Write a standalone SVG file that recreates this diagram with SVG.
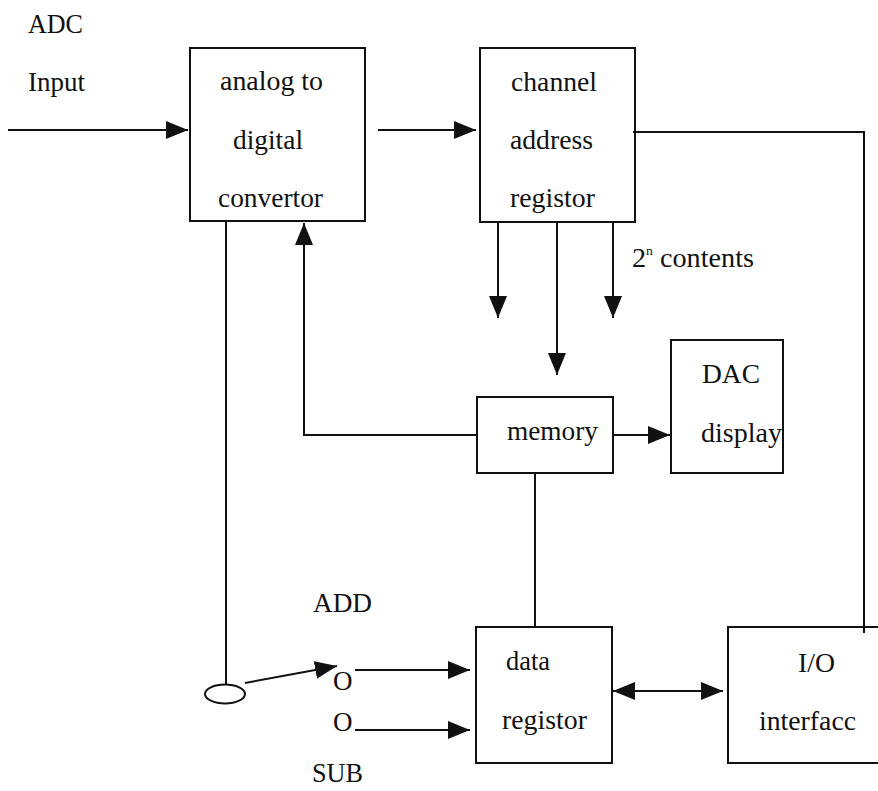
<svg xmlns="http://www.w3.org/2000/svg" width="878" height="791" viewBox="0 0 878 791">
<style>
text{font-family:"Liberation Serif","Times New Roman",serif;font-size:27px;fill:#111}
.box{fill:none;stroke:#111;stroke-width:2}
.ln{fill:none;stroke:#111;stroke-width:2}
</style>
<defs>
<marker id="ah" viewBox="0 0 22 18" refX="22" refY="9" markerWidth="22" markerHeight="18" markerUnits="userSpaceOnUse" orient="auto-start-reverse">
<path d="M0,0 L22,9 L0,18 Z" fill="#111"/>
</marker>
</defs>
<rect width="878" height="791" fill="#fff"/>
<g id="labels">
<text x="28" y="33" textLength="55" lengthAdjust="spacingAndGlyphs">ADC</text>
<text x="28" y="91" textLength="57" lengthAdjust="spacingAndGlyphs">Input</text>
<text x="632" y="267" textLength="122" lengthAdjust="spacingAndGlyphs"><tspan>2</tspan><tspan dy="-12" font-size="13">n</tspan><tspan dy="12"> contents</tspan></text>
<text x="313" y="612" textLength="59" lengthAdjust="spacingAndGlyphs">ADD</text>
<text x="312" y="782" textLength="51" lengthAdjust="spacingAndGlyphs">SUB</text>
<text x="333" y="690" font-size="24">O</text>
<text x="333" y="731" font-size="24">O</text>
</g>
<g id="adc">
<rect class="box" x="190" y="48" width="175" height="173"/>
<text x="220" y="90" textLength="103" lengthAdjust="spacingAndGlyphs">analog to</text>
<text x="233" y="149" textLength="70" lengthAdjust="spacingAndGlyphs">digital</text>
<text x="218" y="207" textLength="105" lengthAdjust="spacingAndGlyphs">convertor</text>
</g>
<g id="channel">
<rect class="box" x="480" y="48" width="155" height="174"/>
<text x="511" y="91" textLength="86" lengthAdjust="spacingAndGlyphs">channel</text>
<text x="510" y="149" textLength="83" lengthAdjust="spacingAndGlyphs">address</text>
<text x="510" y="207" textLength="85" lengthAdjust="spacingAndGlyphs">registor</text>
</g>
<g id="memory">
<rect class="box" x="477" y="397" width="136" height="76"/>
<text x="507" y="440" textLength="91" lengthAdjust="spacingAndGlyphs">memory</text>
</g>
<g id="dac">
<rect class="box" x="671" y="340" width="112" height="133"/>
<text x="702" y="383" textLength="58" lengthAdjust="spacingAndGlyphs">DAC</text>
<text x="701" y="442" textLength="81" lengthAdjust="spacingAndGlyphs">display</text>
</g>
<g id="data">
<rect class="box" x="476" y="627" width="136" height="136"/>
<text x="506" y="670" textLength="44" lengthAdjust="spacingAndGlyphs">data</text>
<text x="502" y="729" textLength="85" lengthAdjust="spacingAndGlyphs">registor</text>
</g>
<g id="io">
<rect class="box" x="728" y="627" width="160" height="136"/>
<text x="798" y="672" textLength="37" lengthAdjust="spacingAndGlyphs">I/O</text>
<text x="759" y="730" textLength="97" lengthAdjust="spacingAndGlyphs">interfacc</text>
</g>
<g id="switch">
<ellipse class="ln" cx="225" cy="694" rx="20" ry="9.5"/>
</g>
<g id="connectors">
<line class="ln" x1="8" y1="130" x2="188" y2="130" marker-end="url(#ah)"/>
<line class="ln" x1="378" y1="130" x2="476" y2="130" marker-end="url(#ah)"/>
<polyline class="ln" points="633,132 864,132 864,633"/>
<line class="ln" x1="498" y1="222" x2="498" y2="318" marker-end="url(#ah)"/>
<line class="ln" x1="557" y1="222" x2="557" y2="375" marker-end="url(#ah)"/>
<line class="ln" x1="613" y1="222" x2="613" y2="318" marker-end="url(#ah)"/>
<polyline class="ln" points="477,435 304,435 304,223" marker-end="url(#ah)"/>
<line class="ln" x1="613" y1="435" x2="670" y2="435" marker-end="url(#ah)"/>
<line class="ln" x1="535" y1="473" x2="535" y2="627"/>
<line class="ln" x1="226" y1="221" x2="226" y2="685"/>
<line class="ln" x1="245" y1="683" x2="337" y2="666" marker-end="url(#ah)"/>
<line class="ln" x1="355" y1="670" x2="470" y2="670" marker-end="url(#ah)"/>
<line class="ln" x1="355" y1="730" x2="470" y2="730" marker-end="url(#ah)"/>
<line class="ln" x1="613" y1="691" x2="723" y2="691" marker-start="url(#ah)" marker-end="url(#ah)"/>
</g>
</svg>
